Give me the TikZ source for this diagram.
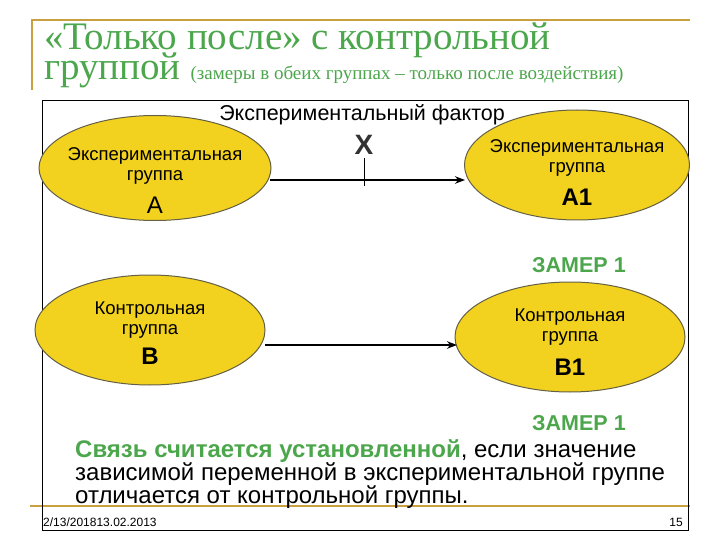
\documentclass[tikz,border=0pt]{standalone}
\usepackage{fontspec}
\setmainfont{Liberation Sans}
\newfontfamily\serif{Liberation Serif}
\usetikzlibrary{arrows.meta,shapes.geometric}
\definecolor{tg}{HTML}{4CA64C}
\definecolor{gold}{HTML}{C8A040}
\definecolor{yel}{HTML}{F2D21E}
\begin{document}
\begin{tikzpicture}[x=1pt,y=-1pt,
  grp/.style={ellipse,draw=black!70!yellow,line width=1pt,fill=yel},
  gt/.style={font=\fontsize{18.5}{20}\selectfont,align=center},
  big/.style={font=\bfseries\fontsize{24}{24}\selectfont},
  arr/.style={-{Stealth[length=10pt]},line width=1.5pt}]
\useasboundingbox (0,0) rectangle (720,540);
\draw[gold,line width=1.5pt] (32,90) -- (32,20) -- (690,20);
\draw[gold,line width=1.5pt] (30,506) -- (690,506);
\node[anchor=west,text=tg,font=\serif\fontsize{39}{39}\selectfont,inner sep=0] (t1) at (44,40) {«Только после» с контрольной};
\node[anchor=west,text=tg,font=\serif\fontsize{39}{39}\selectfont,inner sep=0] (t2) at (44,70) {группой {\fontsize{19}{19}\selectfont (замеры в обеих группах – только после воздействия)}};
\draw[black,line width=0.7pt] (42,100) rectangle (688,530);
\node[font=\fontsize{21.5}{24}\selectfont] (ef) at (362,115) {Экспериментальный фактор};
\node[grp,minimum width=232,minimum height=105] (a) at (155,168) {};
\node[gt] at (155,166) {Экспериментальная\\группа};
\node[big,font=\fontsize{24}{24}\selectfont] at (155,205) {А};
\node[grp,minimum width=225,minimum height=110] (a1) at (577,165) {};
\node[gt] at (577,158) {Экспериментальная\\группа};
\node[big] at (577,197) {А1};
\node[grp,minimum width=230,minimum height=110] (b) at (150,330) {};
\node[gt] at (150,320) {Контрольная\\группа};
\node[big] at (150,356) {В};
\node[grp,minimum width=230,minimum height=110] (b1) at (570,337) {};
\node[gt] at (570,327) {Контрольная\\группа};
\node[big] at (570,367) {В1};
\coordinate (p1) at (270,180); \coordinate (p2) at (465,180);
\draw[arr] (p1) -- (p2);
\node[font=\bfseries\fontsize{28}{28}\selectfont,text=black!80] (x) at (364,145) {Х};
\draw[line width=1pt] (x.south) -- (364,186);
\coordinate (q1) at (265,345); \coordinate (q2) at (457,345);
\draw[arr] (q1) -- (q2);
\node[text=tg,font=\bfseries\fontsize{21.5}{24}\selectfont] (z1) at (579,265) {ЗАМЕР 1};
\node[text=tg,font=\bfseries\fontsize{21.5}{24}\selectfont] (z2) at (579,423) {ЗАМЕР 1};
\node[anchor=north west,align=left,font=\fontsize{24}{23}\selectfont,inner sep=0] (txt) at (75,439) {{\color{tg}\bfseries Связь считается установленной}, если значение\\зависимой переменной в экспериментальной группе\\отличается от контрольной группы.};
\node[anchor=south west,inner sep=1pt,font=\fontsize{12}{12}\selectfont] (d) at (42,528) {2/13/201813.02.2013};
\node[anchor=south east,inner sep=1pt,font=\fontsize{12}{12}\selectfont] (n) at (684,528) {15};
\end{tikzpicture}
\end{document}
